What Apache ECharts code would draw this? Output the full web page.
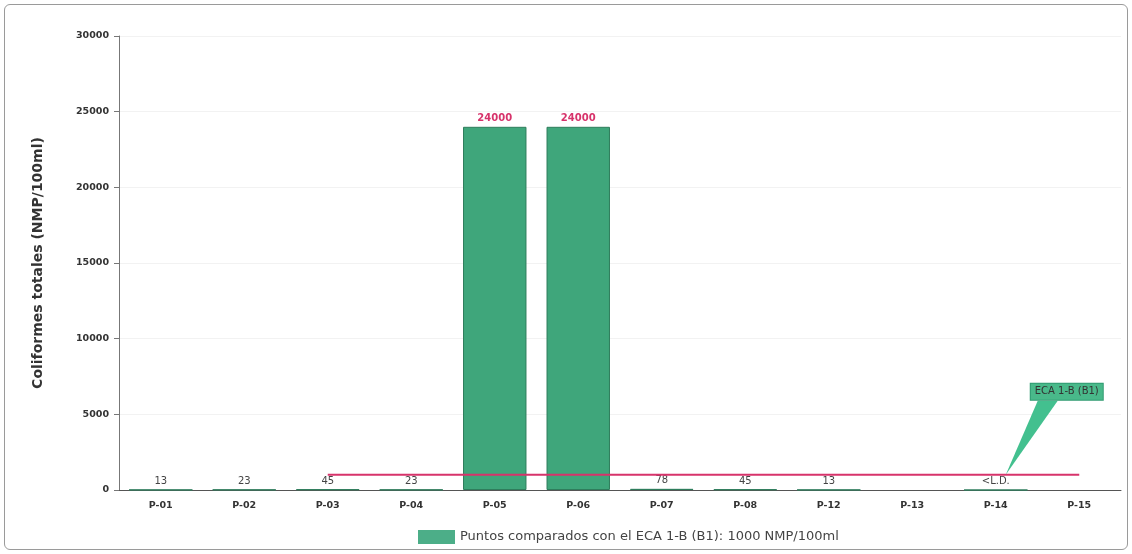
<!DOCTYPE html>
<html>
<head>
<meta charset="utf-8">
<script src="https://cdn.jsdelivr.net/npm/echarts@6/dist/echarts.min.js"></script>
<style>
  html, body { margin: 0; padding: 0; background: #fff; }
  #frame { position: absolute; left: 4px; top: 4px; width: 1122px; height: 544px;
           border: 1px solid #9a9a9a; border-radius: 6px; }
  #chart { position: absolute; left: 0; top: 0; width: 1132px; height: 554px; }
</style>
</head>
<body>
<div id="frame"></div>
<div id="chart"></div>
<script>
// Sampling points
const categories = ['P-01', 'P-02', 'P-03', 'P-04', 'P-05', 'P-06', 'P-07', 'P-08', 'P-12', 'P-13', 'P-14', 'P-15'];
// Total coliforms (NMP/100ml); P-14 below detection limit, P-13 / P-15 not reported
const coliformes = [13, 23, 45, 23, 24000, 24000, 78, 45, 13, null, 0, null];
const belowLimit = [false, false, false, false, false, false, false, false, false, false, true, false];
// ECA 1-B (B1) standard, drawn from P-03 onward
const ecaValue = 1000;
const ecaLimit = [null, null, 1000, 1000, 1000, 1000, 1000, 1000, 1000, 1000, 1000, 1000];
const ecaLabel = 'ECA 1-B (B1)';
const yTicks = [0, 5000, 10000, 15000, 20000, 25000, 30000];
const legendName = 'Puntos comparados con el ECA 1-B (B1): 1000 NMP/100ml';

const chart = echarts.init(document.getElementById('chart'));
const font = 'DejaVu Sans, Arial, sans-serif';
const green = '#3fa67b';
const crimson = '#d7336b';

chart.setOption({
  animation: false,
  textStyle: { fontFamily: font },
  grid: { left: 119, right: 11, top: 36, bottom: 64, containLabel: false },
  legend: {
    data: [{ name: legendName, icon: 'rect' }],
    bottom: 5,
    left: 413,
    itemWidth: 37,
    itemHeight: 14,
    itemGap: 5,
    itemStyle: { borderWidth: 0, color: '#4cae88' },
    textStyle: { fontSize: 13, color: '#444', fontFamily: font }
  },
  xAxis: {
    type: 'category',
    data: categories,
    axisLine: { lineStyle: { color: '#555', width: 1 } },
    axisTick: { show: false },
    axisLabel: { fontSize: 9.5, fontWeight: 'bold', color: '#333', margin: 11 }
  },
  yAxis: {
    type: 'value',
    min: yTicks[0],
    max: yTicks[yTicks.length - 1],
    interval: yTicks[1] - yTicks[0],
    name: 'Coliformes totales (NMP/100ml)',
    nameLocation: 'middle',
    nameGap: 74,
    nameTextStyle: { fontSize: 14, fontWeight: 'bold', color: '#333' },
    axisLine: { show: true, lineStyle: { color: '#777' } },
    axisTick: { show: true, length: 5, lineStyle: { color: '#777' } },
    axisLabel: { fontSize: 9.5, fontWeight: 'bold', color: '#333', margin: 10,
                 formatter: v => String(v) },
    splitLine: { lineStyle: { color: '#f2f2f2' } }
  },
  series: [
    {
      name: legendName,
      type: 'bar',
      data: coliformes.map(v => v !== null && v > ecaValue
        ? { value: v, label: { color: crimson, fontWeight: 'bold' } }
        : v),
      barWidth: '76%',
      itemStyle: { color: green, borderColor: '#2f7d5c', borderWidth: 1 },
      label: {
        show: true,
        position: 'top',
        distance: 3,
        fontSize: 10,
        formatter: p => belowLimit[p.dataIndex] ? '<L.D.' : String(p.value),
        color: '#444'
      },
      z: 2
    },
    {
      name: ecaLabel,
      type: 'line',
      data: ecaLimit,
      symbol: 'none',
      lineStyle: { color: crimson, width: 2 },
      z: 3,
      markPoint: {
        symbol: 'path://M0,74 L32,0 L52,0 Z',
        symbolSize: [52, 74],
        symbolKeepAspect: false,
        symbolOffset: [36, -37],
        itemStyle: { color: '#43c08f' },
        data: [{ coord: ['P-14', ecaValue] }],
        label: {
          show: true,
          formatter: ecaLabel,
          position: [25, -17],
          fontSize: 10,
          color: '#333',
          backgroundColor: '#49b98a',
          borderColor: '#2f9a70',
          borderWidth: 1,
          padding: [3, 4]
        }
      }
    }
  ]
});
</script>
</body>
</html>
